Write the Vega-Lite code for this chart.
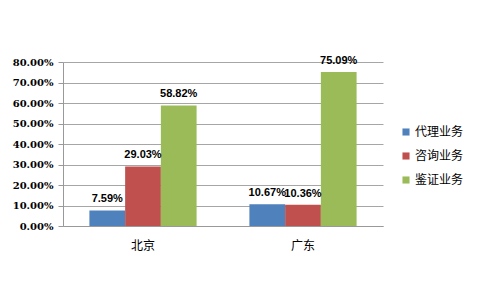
{
  "$schema": "https://vega.github.io/schema/vega-lite/v6.json",
  "width": 320,
  "height": 164,
  "autosize": {"type": "none"},
  "padding": {"left": 63, "top": 62, "right": 105, "bottom": 79},
  "background": "white",
  "config": {"view": {"stroke": null}},
  "data": {
    "values": [
      {"region": "北京", "type": "代理业务", "value": 0.0759},
      {"region": "北京", "type": "咨询业务", "value": 0.2903},
      {"region": "北京", "type": "鉴证业务", "value": 0.5882},
      {"region": "广东", "type": "代理业务", "value": 0.1067},
      {"region": "广东", "type": "咨询业务", "value": 0.1036},
      {"region": "广东", "type": "鉴证业务", "value": 0.7509}
    ]
  },
  "encoding": {
    "x": {
      "field": "region", "type": "nominal", "sort": ["北京", "广东"],
      "scale": {"paddingInner": 0.33, "paddingOuter": 0.165},
      "axis": {"title": null, "labelAngle": 0, "labelFont": "Noto Sans CJK SC", "labelFontSize": 12, "labelColor": "#000", "labelPadding": 14, "domainColor": "#999", "ticks": false, "grid": false}
    },
    "xOffset": {"field": "type", "type": "nominal", "sort": ["代理业务", "咨询业务", "鉴证业务"], "scale": {"paddingInner": 0}},
    "y": {
      "field": "value", "type": "quantitative",
      "scale": {"domain": [0, 0.8]},
      "axis": {"title": null, "format": ".2%", "values": [0, 0.1, 0.2, 0.3, 0.4, 0.5, 0.6, 0.7, 0.8], "labelOverlap": false, "labelFont": "DejaVu Serif", "labelFontWeight": "bold", "labelFontSize": 10, "labelColor": "#000", "labelPadding": 5, "tickSize": 5, "tickColor": "#999", "domainColor": "#999", "gridColor": "#a6a6a6", "domain": true}
    }
  },
  "layer": [
    {
      "mark": {"type": "bar"},
      "encoding": {
        "color": {
          "field": "type", "type": "nominal", "sort": ["代理业务", "咨询业务", "鉴证业务"],
          "scale": {"domain": ["代理业务", "咨询业务", "鉴证业务"], "range": ["#4F81BD", "#C0504D", "#9BBB59"]},
          "legend": {"title": null, "orient": "none", "legendX": 337, "legendY": 64, "symbolType": "square", "symbolSize": 50, "symbolStrokeWidth": 0, "labelFont": "Noto Sans CJK SC", "labelFontSize": 12, "labelColor": "#000", "rowPadding": 12, "labelOffset": 3}
        }
      }
    },
    {
      "mark": {"type": "text", "dy": -11, "font": "Liberation Sans", "fontWeight": "bold", "fontSize": 11, "color": "#000"},
      "encoding": {"text": {"field": "value", "type": "quantitative", "format": ".2%"}}
    }
  ]
}
